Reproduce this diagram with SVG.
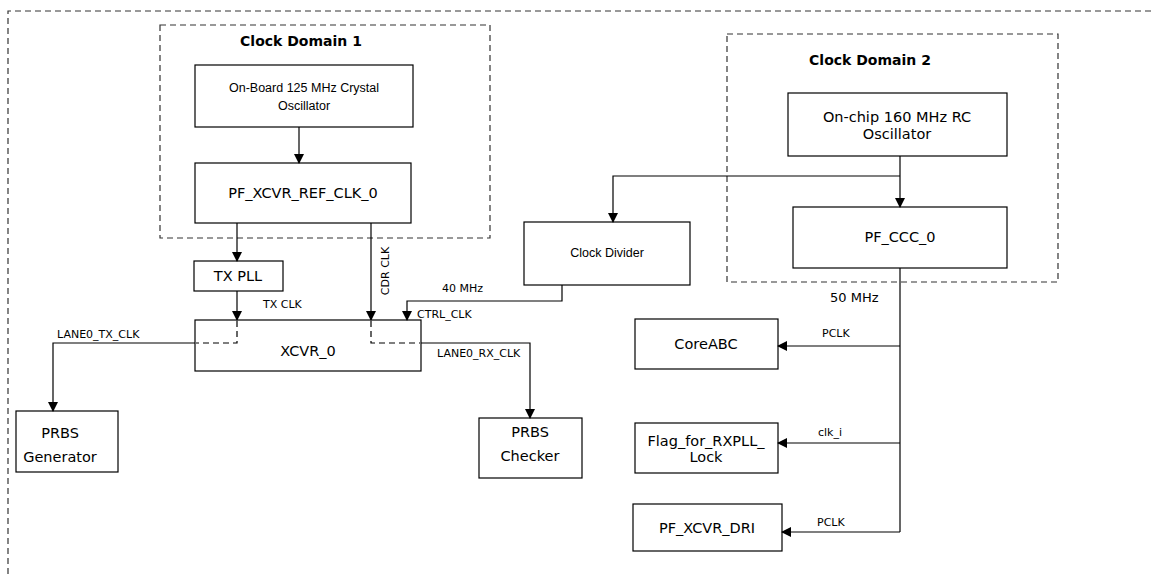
<svg xmlns="http://www.w3.org/2000/svg" width="1154" height="574" viewBox="0 0 1154 574">
<defs>
<marker id="ah" markerWidth="10" markerHeight="10" refX="9" refY="5" orient="auto" markerUnits="userSpaceOnUse">
<path d="M0,0 L10,5 L0,10 Z" fill="#000"/>
</marker>
<style>
.box{fill:#fff;stroke:#000;stroke-width:1.2}
.dom{fill:none;stroke:#333;stroke-width:1.2;stroke-dasharray:6,4}
.ln{fill:none;stroke:#000;stroke-width:1.2}
.dl{fill:none;stroke:#000;stroke-width:1.2;stroke-dasharray:6,4}
.t{font-family:"DejaVu Sans",Verdana,sans-serif;font-size:14.5px;fill:#000;text-anchor:middle}
.c{font-family:"Liberation Sans",Arial,sans-serif;font-size:12.5px;fill:#000;text-anchor:middle}
.b{font-family:"DejaVu Sans",Verdana,sans-serif;font-size:14px;font-weight:bold;fill:#000;text-anchor:middle}
.s{font-family:"DejaVu Sans",Verdana,sans-serif;font-size:11px;fill:#000}
.m{font-family:"DejaVu Sans",Verdana,sans-serif;font-size:13px;fill:#000}
</style>
</defs>
<rect width="1154" height="574" fill="#fff"/>
<g id="outer">
<path class="dom" d="M8,574 L8,11 L1154,11"/>
</g>
<g id="domain1">
<rect class="dom" x="160" y="25" width="330" height="213"/>
<text class="b" x="301" y="46">Clock Domain 1</text>
</g>
<g id="domain2">
<rect class="dom" x="727" y="34" width="331" height="248"/>
<text class="b" x="870" y="65">Clock Domain 2</text>
</g>
<g id="crystal">
<rect class="box" x="195" y="65" width="218" height="62"/>
<text class="c" x="304" y="92">On-Board 125 MHz Crystal</text>
<text class="c" x="304" y="110">Oscillator</text>
</g>
<g id="refclk">
<rect class="box" x="195" y="163" width="216" height="60"/>
<text class="t" x="303" y="198">PF_XCVR_REF_CLK_0</text>
</g>
<g id="txpll">
<rect class="box" x="194" y="261" width="89" height="30"/>
<text class="t" x="238" y="281">TX PLL</text>
</g>
<g id="xcvr">
<rect class="box" x="195" y="320" width="226" height="51"/>
<text class="t" x="308" y="356">XCVR_0</text>
</g>
<g id="prbsgen">
<rect class="box" x="16" y="411" width="102" height="61"/>
<text class="t" x="60" y="438">PRBS</text>
<text class="t" x="60" y="462">Generator</text>
</g>
<g id="prbschk">
<rect class="box" x="479" y="418" width="103" height="60"/>
<text class="t" x="530" y="437">PRBS</text>
<text class="t" x="530" y="461">Checker</text>
</g>
<g id="clkdiv">
<rect class="box" x="524" y="222" width="166" height="63"/>
<text class="c" x="607" y="257">Clock Divider</text>
</g>
<g id="rcosc">
<rect class="box" x="788" y="93" width="219" height="63"/>
<text class="t" x="897" y="122">On-chip 160 MHz RC</text>
<text class="t" x="897" y="139">Oscillator</text>
</g>
<g id="ccc">
<rect class="box" x="793" y="207" width="214" height="61"/>
<text class="t" x="900" y="242">PF_CCC_0</text>
</g>
<g id="coreabc">
<rect class="box" x="635" y="319" width="143" height="50"/>
<text class="t" x="706" y="349">CoreABC</text>
</g>
<g id="flag">
<rect class="box" x="635" y="423" width="143" height="50"/>
<text class="t" x="706" y="446">Flag_for_RXPLL_</text>
<text class="t" x="706" y="462">Lock</text>
</g>
<g id="dri">
<rect class="box" x="633" y="504" width="149" height="47"/>
<text class="t" x="707" y="533">PF_XCVR_DRI</text>
</g>
<g id="connectors">
<path class="ln" d="M299,127 L299,163" marker-end="url(#ah)"/>
<path class="ln" d="M237,223 L237,261" marker-end="url(#ah)"/>
<path class="ln" d="M237,291 L237,320" marker-end="url(#ah)"/>
<path class="ln" d="M371,223 L371,320" marker-end="url(#ah)"/>
<path class="ln" d="M562,285 L562,301 L407,301 L407,320" marker-end="url(#ah)"/>
<path class="ln" d="M900,156 L900,207" marker-end="url(#ah)"/>
<path class="ln" d="M900,176 L613,176 L613,222" marker-end="url(#ah)"/>
<path class="dl" d="M237,321 L237,343 L196,343"/>
<path class="ln" d="M195,343 L53,343 L53,411" marker-end="url(#ah)"/>
<path class="dl" d="M371,321 L371,343 L420,343"/>
<path class="ln" d="M421,343 L530,343 L530,418" marker-end="url(#ah)"/>
<path class="ln" d="M900,268 L900,532"/>
<path class="ln" d="M900,346 L778,346" marker-end="url(#ah)"/>
<path class="ln" d="M900,443 L778,443" marker-end="url(#ah)"/>
<path class="ln" d="M900,532 L782,532" marker-end="url(#ah)"/>
<text class="s" x="263" y="308">TX CLK</text>
<text class="s" transform="translate(389,271) rotate(-90)" text-anchor="middle">CDR CLK</text>
<text class="s" x="442" y="292">40 MHz</text>
<text class="s" x="417" y="318">CTRL_CLK</text>
<text class="s" x="57" y="338">LANE0_TX_CLK</text>
<text class="s" x="437" y="357">LANE0_RX_CLK</text>
<text class="m" x="830" y="302">50 MHz</text>
<text class="s" x="822" y="337">PCLK</text>
<text class="s" x="818" y="436">clk_i</text>
<text class="s" x="817" y="526">PCLK</text>
</g>
</svg>
